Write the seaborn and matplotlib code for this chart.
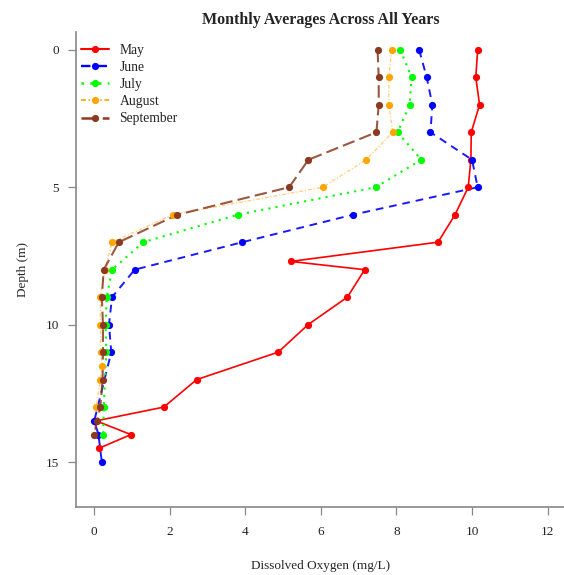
import pandas as pd
import matplotlib.pyplot as plt
import seaborn as sns

# Depth (m) and dissolved oxygen (mg/L) per month
may_depth = [0, 1, 2, 3, 4, 5, 6, 7, 7.7, 8, 9, 10, 11, 12, 13, 13.5, 14, 14.5]
may_do = [10.15, 10.1, 10.2, 9.98, 9.97, 9.9, 9.55, 9.1, 5.2, 7.16, 6.7, 5.66, 4.87, 2.71, 1.84, 0.05, 0.97, 0.12]

june_depth = [0, 1, 2, 3, 4, 5, 6, 7, 8, 9, 10, 11, 13.5, 14, 15]
june_do = [8.6, 8.8, 8.95, 8.9, 10.0, 10.15, 6.85, 3.92, 1.07, 0.47, 0.39, 0.45, 0.0, 0.11, 0.2]

july_depth = [0, 1, 2, 3, 4, 5, 6, 7, 8, 9, 10, 11, 13, 14]
july_do = [8.1, 8.4, 8.35, 8.03, 8.66, 7.45, 3.8, 1.3, 0.47, 0.33, 0.3, 0.32, 0.25, 0.24]

aug_depth = [0, 1, 2, 3, 4, 5, 6, 7, 8, 9, 10, 11, 11.5, 12, 13]
aug_do = [7.87, 7.8, 7.8, 7.9, 7.2, 6.05, 2.08, 0.47, 0.28, 0.16, 0.16, 0.17, 0.21, 0.16, 0.05]

sep_depth = [0, 1, 2, 3, 4, 5, 6, 7, 8, 9, 10, 11, 12, 13, 13.5, 14]
sep_do = [7.5, 7.53, 7.53, 7.47, 5.67, 5.16, 2.2, 0.65, 0.25, 0.2, 0.23, 0.23, 0.22, 0.16, 0.07, 0.0]

months = ['May', 'June', 'July', 'August', 'September']

sns.set_style('ticks')
plt.rcParams['font.family'] = ['Liberation Serif', 'DejaVu Serif']

frames = []
for name, d, v in zip(months,
                      [may_depth, june_depth, july_depth, aug_depth, sep_depth],
                      [may_do, june_do, july_do, aug_do, sep_do]):
    frames.append(pd.DataFrame({'month': name, 'depth': d, 'do': v}))
df = pd.concat(frames, ignore_index=True)

styles = {
    'May': dict(color='#FF0000', ls='-', lw=1.2, alpha=1.0),
    'June': dict(color='#0000FF', ls=(0, (4, 3)), lw=1.4, alpha=0.9),
    'July': dict(color='#00FF00', ls=(0, (1, 2.5)), lw=1.5, alpha=1.0),
    'August': dict(color='#FFA500', ls=(0, (3, 1.5, 1, 1.5)), lw=0.9, alpha=0.55),
    'September': dict(color='#8B3A1F', ls=(0, (6, 2.5)), lw=1.5, alpha=0.85),
}

fig = plt.figure(figsize=(5.64, 5.75), dpi=100)
ax = fig.add_axes([0.135, 0.118, 0.868, 0.826])

for name in months:
    st = styles[name]
    sub = df[df['month'] == name]
    sns.lineplot(data=sub, x='do', y='depth', sort=False, estimator=None,
                 color=st['color'], linestyle=st['ls'], linewidth=st['lw'],
                 alpha=st['alpha'], ax=ax, label=name)
    # points drawn opaque on top of the line
    ax.plot(sub['do'], sub['depth'], 'o', color=st['color'], ms=5.2,
            mec='none', zorder=3)

ax.set_xlim(-0.48, 12.48)
ax.set_ylim(16.64, -0.64)
ax.set_xticks(range(0, 13, 2))
ax.set_yticks([0, 5, 10, 15])
ax.tick_params(axis='both', length=5.5, width=0.9, color='#888888',
               labelsize=9.5, labelcolor='#222222')
ax.tick_params(axis='x', pad=8)
ax.tick_params(axis='y', pad=7)

for s in ['top', 'right']:
    ax.spines[s].set_visible(False)
for s in ['left', 'bottom']:
    ax.spines[s].set_color('#888888')
    ax.spines[s].set_linewidth(1.2)

ax.set_xlabel('Dissolved Oxygen (mg/L)', fontsize=9.5, labelpad=16)
ax.set_ylabel('Depth (m)', fontsize=9.5, labelpad=12)
ax.set_title('Monthly Averages Across All Years', fontsize=11.5,
             fontweight='bold', pad=6)

# legend with markers on the lines
handles = []
for name in months:
    st = styles[name]
    h, = ax.plot([], [], color=st['color'], linestyle=st['ls'],
                 linewidth=st['lw'] + 0.3, marker='o', ms=5.2,
                 markerfacecolor=st['color'], markeredgecolor='none')
    handles.append(h)
ax.legend(handles, months, loc='upper left', frameon=False, fontsize=9.8,
          bbox_to_anchor=(0.008, 0.978), handlelength=2.0, handletextpad=0.8,
          labelspacing=0.3, borderaxespad=0.0, borderpad=0.1)

plt.savefig('out.png', dpi=100, facecolor='white')
plt.close()
